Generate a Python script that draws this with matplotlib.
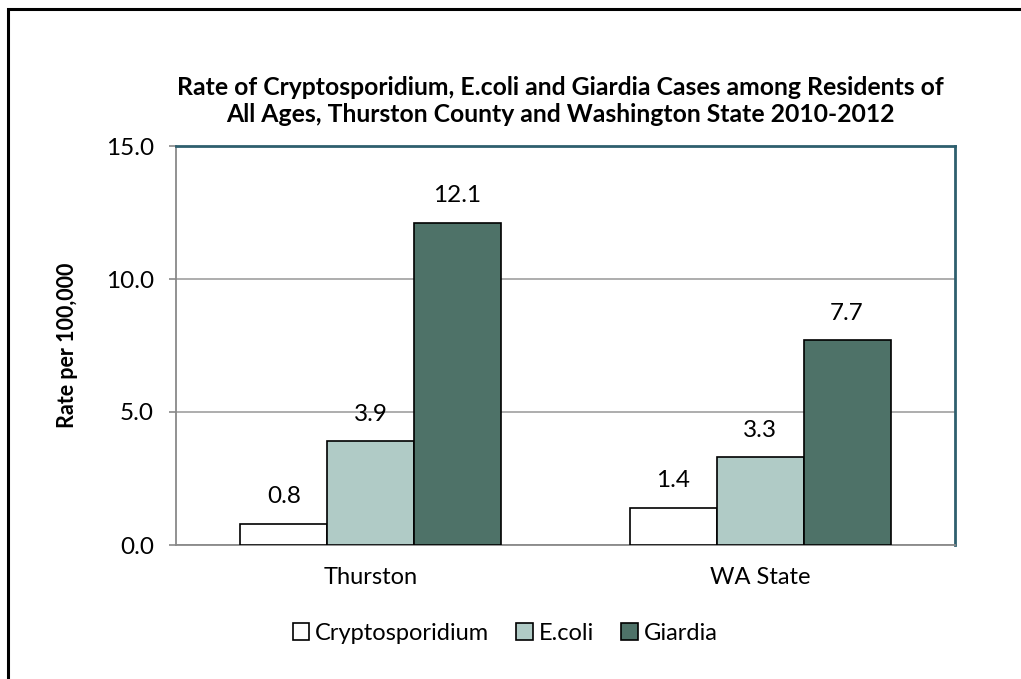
import matplotlib
matplotlib.use("Agg")
import matplotlib.pyplot as plt
import numpy as np
from matplotlib.patches import Rectangle

categories = ["Thurston", "WA State"]
series_names = ["Cryptosporidium", "E.coli", "Giardia"]
crypto = [0.8, 1.4]
ecoli = [3.9, 3.3]
giardia = [12.1, 7.7]
yticks = [0.0, 5.0, 10.0, 15.0]

plt.rcParams['font.family'] = ['Lato', 'DejaVu Sans']

fig = plt.figure(figsize=(10.21, 6.79), dpi=100)
ax = fig.add_axes([176/1021, 1-545/679, (955-176)/1021, (545-146)/679])

colors = ["#FFFFFF", "#B0CBC6", "#4E7268"]
x = np.arange(len(categories))
w = 0.223
for i, (vals, name, c) in enumerate(zip([crypto, ecoli, giardia], series_names, colors)):
    pos = x + (i - 1) * w
    ax.bar(pos, vals, width=w, color=c, edgecolor="black", linewidth=1.2, label=name, zorder=3)
    for p, v in zip(pos, vals):
        ax.annotate(f"{v:.1f}", (p, v), xytext=(0, 12), textcoords="offset points",
                    ha="center", va="bottom", fontsize=17.5, color="black")

ax.set_xlim(-0.5, 1.5)
ax.set_ylim(0, 15)
ax.set_yticks(yticks)
ax.set_yticklabels([f"{t:.1f}" for t in yticks], fontsize=17.5)
ax.set_xticks(x)
ax.set_xticklabels(categories, fontsize=17)
ax.tick_params(axis='x', length=0, pad=16)
ax.tick_params(axis='y', length=5, color="#898989", width=1.2, pad=11)
ax.yaxis.grid(True, color="#A0A0A0", linewidth=1.2, zorder=0)
ax.set_axisbelow(True)
for s in ["left", "bottom"]:
    ax.spines[s].set_color("#898989")
    ax.spines[s].set_linewidth(1.3)
for s in ["top", "right"]:
    ax.spines[s].set_color("#2E5F6E")
    ax.spines[s].set_linewidth(2)

ax.set_ylabel("Rate per 100,000", fontsize=15.5, fontweight="bold")
ax.yaxis.set_label_coords(-(176-78)/779, 0.5)

fig.text(560/1021, 1-101/679,
         "Rate of Cryptosporidium, E.coli and Giardia Cases among Residents of\nAll Ages, Thurston County and Washington State 2010-2012",
         ha="center", va="center", fontsize=17.8, fontweight="bold", linespacing=1.2)

fig.legend(loc="center", bbox_to_anchor=(505/1021, 1-633/679), ncol=3, frameon=False,
           fontsize=17, handlelength=0.7, handleheight=0.7, handletextpad=0.25, columnspacing=1.15)

fig.patches.append(Rectangle((8/1021, -0.1), 1.2, 1 - 9/679 + 0.1, transform=fig.transFigure,
                             fill=False, edgecolor="black", linewidth=2.2))

fig.savefig("out.png", dpi=100)
